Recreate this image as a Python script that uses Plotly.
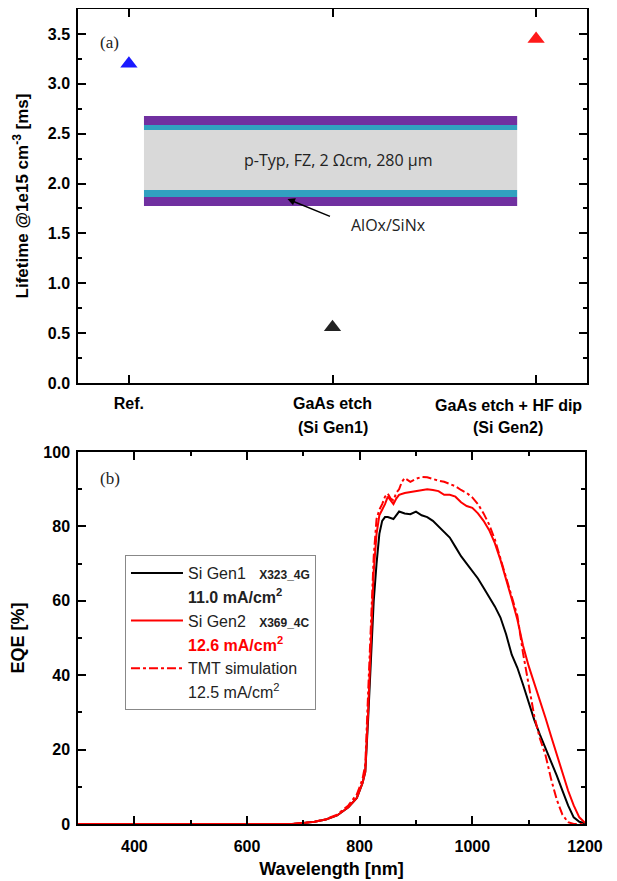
import plotly.graph_objects as go

# ---------------- data ----------------
NB = "\u00a0"
categories = ["Ref.", "GaAs etch", "GaAs etch + HF dip"]
sub_labels = ["", "(Si Gen1)", "(Si Gen2)"]
label_shift = [0, 0, -28]   # the last category label sits left of its tick in the original
cat_pos = [0, 1, 2]
lifetime_ms = [3.20, 0.56, 3.45]
marker_colors = ["#1a1aff", "#222222", "#ff1a1a"]

wl_gen1 = [300, 400, 500, 600, 680, 700, 720, 740, 760, 780, 795, 805, 810, 815, 820, 825, 830, 835,
           840, 845, 850, 860, 870, 880, 890, 900, 910, 920, 930, 940, 950, 960, 970, 980, 990, 1000,
           1010, 1020, 1030, 1040, 1050, 1060, 1070, 1080, 1090, 1100, 1110, 1120, 1130, 1140, 1150,
           1160, 1170, 1180, 1190, 1200]
eqe_gen1 = [0, 0, 0, 0, 0, 0.3, 0.6, 1.2, 2.3, 4.5, 7, 11, 14, 28, 45, 60, 70, 78,
            81.5, 82.5, 82.5, 82, 84, 83.5, 83.3, 84, 83, 82.5, 81.5, 80, 78.5, 77, 74.5, 72, 70, 68,
            66, 63.5, 61, 58.5, 55.5, 51, 45.5, 42, 37.5, 32.5, 28, 24, 20.5, 16.5, 13,
            9, 5, 1.8, 0.6, 0.2]

wl_gen2 = [300, 400, 500, 600, 680, 700, 720, 740, 760, 780, 795, 805, 810, 815, 820, 825, 830, 835,
           840, 845, 850, 855, 860, 865, 870, 880, 890, 900, 910, 920, 930, 940, 950, 960, 970, 980,
           990, 1000, 1010, 1020, 1030, 1040, 1050, 1060, 1070, 1080, 1090, 1100, 1110, 1120, 1130,
           1140, 1150, 1160, 1170, 1180, 1190, 1200]
eqe_gen2 = [0, 0, 0, 0, 0, 0.3, 0.6, 1.2, 2.3, 4.5, 7, 11, 14, 30, 50, 68, 78, 83,
            84.5, 86, 88, 87, 86, 87.5, 88.5, 89, 89.2, 89.5, 89.8, 90, 89.8, 89.5, 88.5, 88.5, 88, 86.5,
            85.5, 85, 83.5, 81.5, 79, 75.5, 71, 66, 60.5, 55, 48, 42.5, 38, 33, 28.5,
            23.5, 18.5, 13.7, 9, 5, 1.8, 0.3]

wl_tmt = [300, 400, 500, 600, 680, 700, 720, 740, 760, 780, 795, 805, 810, 815, 820, 825, 830, 835,
          840, 845, 850, 855, 860, 865, 870, 875, 880, 890, 900, 910, 920, 930, 940, 950, 960, 970,
          980, 990, 1000, 1010, 1020, 1030, 1040, 1050, 1060, 1070, 1080, 1090, 1100, 1110, 1120,
          1130, 1140, 1150, 1160, 1170, 1180, 1200]
eqe_tmt = [0, 0, 0, 0, 0, 0.3, 0.6, 1.3, 2.5, 5, 8, 12, 16, 35, 55, 72, 82, 84.5,
           86, 88, 88.8, 87.5, 87, 89, 90, 92, 93, 92, 92.8, 93.3, 93.2, 92.7, 92.3, 92, 91.5, 90.8,
           89.8, 89, 87.8, 86, 83.5, 80.5, 76.5, 71.5, 66, 61, 56, 46, 37, 29, 23,
           18.5, 12, 6.5, 2.5, 0.5, 0, 0]

series_names = ["Si Gen1" + NB * 3 + "<span style='font-size:12px'><b>X323_4G</b></span>",
                "Si Gen2" + NB * 3 + "<span style='font-size:12px'><b>X369_4C</b></span>",
                "TMT simulation"]
current_labels = ["<b>11.0 mA/cm<sup>2</sup></b>",
                  "<span style='color:#ff0000'><b>12.6 mA/cm<sup>2</sup></b></span>",
                  "12.5 mA/cm<sup>2</sup>"]

# ---------------- figure ----------------
FONT = "Liberation Sans, Arial, sans-serif"
fig = go.Figure()

fig.add_trace(go.Scatter(x=cat_pos, y=lifetime_ms, mode="markers", xaxis="x", yaxis="y",
                         marker=dict(symbol="triangle-up", size=15, color=marker_colors),
                         showlegend=False))

curve_specs = [(wl_gen1, eqe_gen1, "#000000", "solid"),
               (wl_gen2, eqe_gen2, "#ff0000", "solid"),
               (wl_tmt, eqe_tmt, "#ff0000", "dashdot")]
for (wl, eqe, col, dash), nm, cur in zip(curve_specs, series_names, current_labels):
    fig.add_trace(go.Scatter(x=wl, y=eqe, mode="lines", xaxis="x2", yaxis="y2", name=nm,
                             line=dict(color=col, width=2, dash=dash)))
    fig.add_trace(go.Scatter(x=[None], y=[None], mode="lines", xaxis="x2", yaxis="y2", name=cur,
                             line=dict(color="rgba(0,0,0,0)", width=0)))

axis_common = dict(showline=True, linecolor="black", linewidth=1.5, mirror="ticks",
                   ticks="inside", ticklen=8, tickwidth=1.5, tickcolor="black",
                   showgrid=False, zeroline=False, automargin=False,
                   tickfont=dict(family=FONT, size=16, color="black", weight="bold"))
minor_common = dict(ticks="inside", ticklen=4, tickwidth=1.5, tickcolor="black")

# tick text: categories centred on ticks, except the shifted last one (drawn as annotation)
tick_text = [c if s == 0 else "" for c, s in zip(categories, label_shift)]

# the page body adds an 8 px offset, so the figure is 8 px smaller and margins shifted
fig.update_layout(
    width=609, height=873,
    margin=dict(l=70, r=30, t=1, b=57, autoexpand=False),
    paper_bgcolor="white", plot_bgcolor="white",
    font=dict(family=FONT, color="black"),
    xaxis=dict(domain=[0, 1], range=[-0.25, 2.25], anchor="y", tickvals=cat_pos,
               ticktext=tick_text, ticklabelstandoff=5, **axis_common),
    yaxis=dict(domain=[0.5411, 1], range=[0, 3.75], anchor="x", dtick=0.5, tickformat=".1f",
               minor=dict(dtick=0.25, **minor_common), ticklabelstandoff=3,
               title=dict(text="Lifetime @1e15 cm<sup>-3</sup> [ms]" + NB * 6,
                          font=dict(family=FONT, size=17, weight="bold")),
               **axis_common),
    xaxis2=dict(domain=[0, 0.996], range=[300, 1200], anchor="y2", dtick=200,
                minor=dict(dtick=100, **minor_common), ticklabelstandoff=7,
                title=dict(text="Wavelength [nm]", standoff=8,
                           font=dict(family=FONT, size=18, weight="bold")),
                **axis_common),
    yaxis2=dict(domain=[0, 0.4564], range=[0, 100], anchor="x2", dtick=20,
                minor=dict(dtick=10, **minor_common), ticklabelstandoff=3,
                title=dict(text="EQE [%]", font=dict(family=FONT, size=18, weight="bold")),
                **axis_common),
    legend=dict(x=0.0923, y=0.330, xanchor="left", yanchor="top", bgcolor="white",
                bordercolor="#888888", borderwidth=1, itemwidth=52,
                font=dict(family=FONT, size=16, color="#222222"), traceorder="normal"),
)

# layer stack illustration (top panel)
stack_x = [0.074, 1.907]
layers = [(2.588, 2.678, "#7030a0"), (2.538, 2.588, "#31a1c0"), (1.936, 2.538, "#d9d9d9"),
          (1.866, 1.936, "#31a1c0"), (1.776, 1.866, "#7030a0")]
for y0, y1, col in layers:
    fig.add_shape(type="rect", xref="x", yref="y", x0=stack_x[0], x1=stack_x[1], y0=y0, y1=y1,
                  fillcolor=col, line=dict(width=0), layer="below")

fig.add_annotation(xref="x", yref="y", x=1.025, y=2.237, text="p-Typ, FZ, 2 \u03A9cm, 280 \u00B5m",
                   showarrow=False, font=dict(family="Open Sans", size=16, color="#222222"))
fig.add_annotation(xref="x", yref="y", x=1.083, y=1.585, xanchor="left", text="AlOx/SiNx",
                   showarrow=False, font=dict(family="Open Sans", size=16, color="#222222"))
fig.add_annotation(xref="x", yref="y", x=0.779, y=1.845, ax=0.995, ay=1.665, axref="x", ayref="y",
                   text="", showarrow=True, arrowhead=2, arrowsize=1, arrowwidth=1.5, arrowcolor="black")

for xp, cat, lab, sh in zip(cat_pos, categories, sub_labels, label_shift):
    if sh != 0:
        fig.add_annotation(xref="x", yref="paper", x=xp, y=0.5141, text=cat, showarrow=False,
                           xshift=sh, font=dict(family=FONT, size=16, weight="bold", color="black"))
    if lab:
        fig.add_annotation(xref="x", yref="paper", x=xp, y=0.4871, text=lab, showarrow=False,
                           xshift=sh, font=dict(family=FONT, size=16, weight="bold", color="black"))

fig.add_annotation(xref="paper", yref="paper", x=0.039, y=0.973, text="(a)", showarrow=False,
                   xanchor="left", font=dict(family="Liberation Serif", size=17, color="#222222"))
fig.add_annotation(xref="paper", yref="paper", x=0.039, y=0.4245, text="(b)", showarrow=False,
                   xanchor="left", font=dict(family="Liberation Serif", size=17, color="#222222"))

fig.write_html("out.html")
